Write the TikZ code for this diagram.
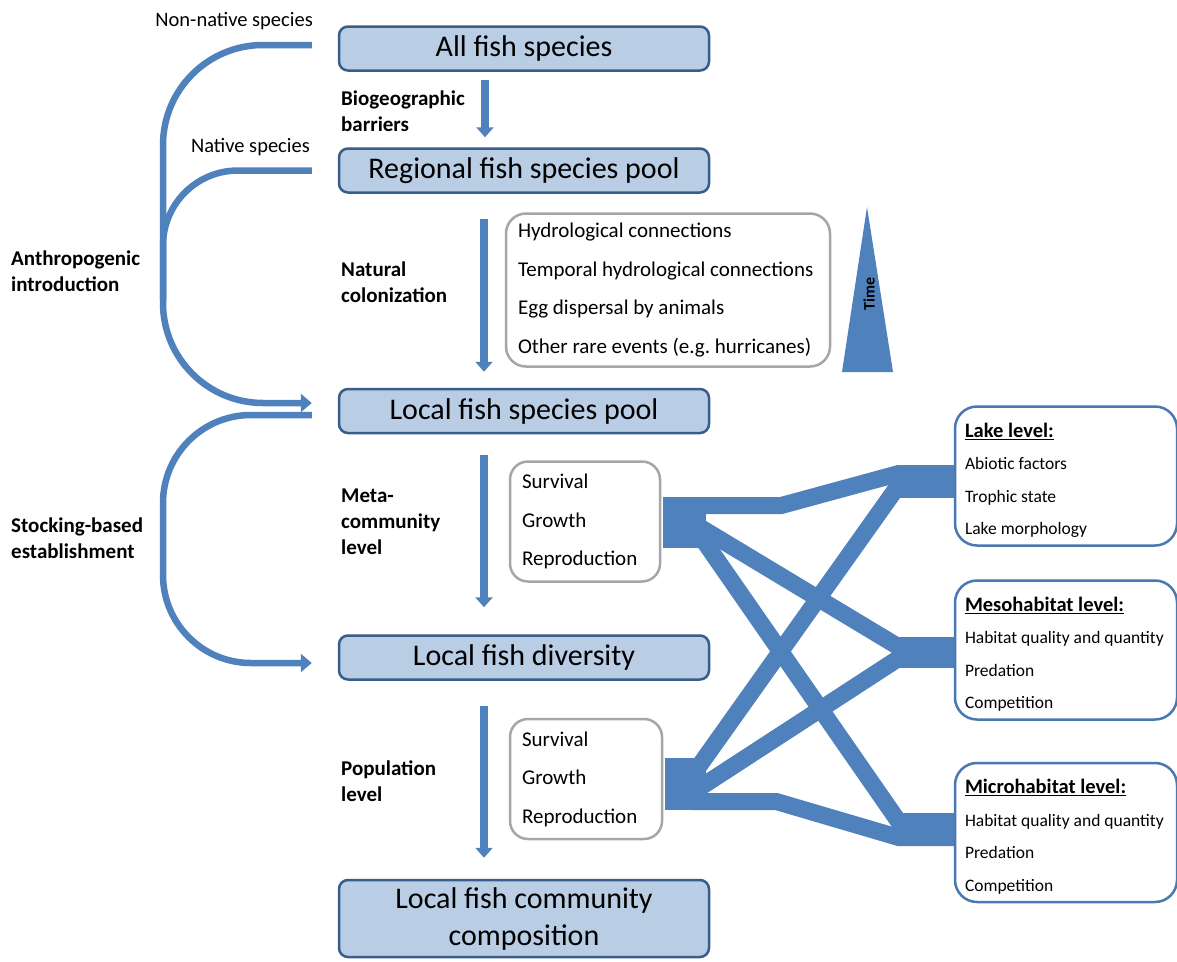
\documentclass[tikz,border=0pt]{standalone}
\usepackage{fontspec}
\setmainfont{Carlito}
\usetikzlibrary{arrows.meta}
\definecolor{flowblue}{HTML}{4F81BD}
\definecolor{boxfill}{HTML}{B9CDE5}
\definecolor{boxline}{HTML}{385D8A}
\definecolor{levelline}{HTML}{4A78B0}
\definecolor{framegray}{HTML}{A6A6A6}
\newcommand\levelhead[1]{{\bfseries\fontsize{20.5}{25}\selectfont\rule{0pt}{23pt}\underline{#1}}}

\begin{document}
\begin{tikzpicture}[
  x=1pt,y=-1pt,
  stage/.style={draw=boxline,line width=2.5pt,fill=boxfill,rounded corners=9pt,minimum width=370pt,minimum height=44pt,inner sep=0pt,align=center,font=\fontsize{30}{37}\selectfont},
  factors/.style={draw=framegray,line width=2.5pt,fill=white,rounded corners=20pt,inner xsep=12pt,inner ysep=0pt,align=flush left,font=\fontsize{21}{38.5}\selectfont},
  level/.style={draw=levelline,line width=2.5pt,fill=white,rounded corners=22pt,inner xsep=10pt,inner ysep=0pt,text width=202pt,minimum height=139pt,align=flush left,font=\fontsize{17.5}{32.5}\selectfont},
  note/.style={inner sep=0pt,font=\fontsize{20.5}{25}\selectfont},
  process/.style={inner sep=0pt,align=left,font=\bfseries\fontsize{21}{26}\selectfont},
  flow/.style={draw=flowblue,line width=8pt,-{Triangle[length=10pt,width=17pt]}},
  route/.style={draw=flowblue,line width=6.5pt},
  routehead/.style={-{Triangle[length=11pt,width=18pt]}},
  band/.style={draw=flowblue,line width=17pt}
]
\path[use as bounding box,fill=white] (0,0) rectangle (1177,961);

\node[stage] (allsp) at (524,48.5) {All fish species};
\node[stage] (regional) at (524,170.5) {Regional fish species pool};
\node[stage] (pool) at (524,411) {Local fish species pool};
\node[stage] (diversity) at (524,657.5) {Local fish diversity};
\node[stage,minimum height=77pt] (community) at (524,918.5) {Local fish community\\composition};

\node[note,anchor=east] (nonnative) at (313,21) {Non-native species};
\node[note,anchor=east] (native) at (310,147) {Native species};
\node[process,anchor=west] (anthro) at (11,271) {Anthropogenic\\introduction};
\node[process,anchor=west] (stocking) at (11,538) {Stocking-based\\establishment};
\node[process,anchor=west] (barrier) at (341,111) {Biogeographic\\barriers};
\node[process,anchor=west] (colonise) at (341,282) {Natural\\colonization};
\node[process,anchor=west] (metalevel) at (341,522) {Meta-\\community\\level};
\node[process,anchor=west] (poplevel) at (341,781) {Population\\level};

\node[factors,text width=300pt,minimum height=153pt] (routes) at (668,290)
  {Hydrological connections\\Temporal hydrological connections\\Egg dispersal by animals\\Other rare events (e.g.\ hurricanes)};
\fill[flowblue] (867,207) -- (893,372) -- (842,372) -- cycle;
\node[rotate=90,inner sep=0pt,font=\bfseries\fontsize{16}{16}\selectfont] (timelabel) at (869,294) {Time};

\node[factors,text width=126pt,minimum height=120pt,rounded corners=18pt] (metabox) at (585,521.5)
  {Survival\\Growth\\Reproduction};
\node[factors,text width=128pt,minimum height=120pt,rounded corners=18pt] (popbox) at (586,779)
  {Survival\\Growth\\Reproduction};

\node[level] (lake) at (1066,476)
  {\levelhead{Lake level:}\\Abiotic factors\\Trophic state\\Lake morphology};
\node[level] (meso) at (1066,650)
  {\levelhead{Mesohabitat level:}\\Habitat quality and quantity\\Predation\\Competition};
\node[level] (micro) at (1066,832.5)
  {\levelhead{Microhabitat level:}\\Habitat quality and quantity\\Predation\\Competition};

\draw[flow] ([xshift=-39pt,yshift=-8pt]allsp.south) -- ([xshift=-39pt,yshift=10pt]regional.north);
\draw[flow] ([xshift=-40pt,yshift=-25pt]regional.south) -- ([xshift=-40pt,yshift=16pt]pool.north);
\draw[flow] ([xshift=-40pt,yshift=-21pt]pool.south) -- ([xshift=-40pt,yshift=27pt]diversity.north);
\draw[flow] ([xshift=-40pt,yshift=-25pt]diversity.south) -- ([xshift=-40pt,yshift=21pt]community.north);

\draw[route,routehead,rounded corners=100pt] ([xshift=-26pt,yshift=3.5pt]allsp.west) -| (163,403) -- ([xshift=-26pt,yshift=8pt]pool.west);
\draw[route,rounded corners=75pt] ([xshift=-26pt]regional.west) -| (163,300);
\draw[route,routehead,rounded corners=88pt] ([xshift=-26pt,yshift=-4pt]pool.west) -| (163,663) -- ([xshift=-26pt,yshift=-5.5pt]diversity.west);

\draw[band,line width=51pt] ([xshift=1.5pt,yshift=-1pt]metabox.east) -- ++(43.5,0);
\draw[band,line width=52pt] ([xshift=1.5pt,yshift=-5pt]popbox.east) -- ++(41.5,0);
\draw[band,line width=33pt] ([xshift=-57pt,yshift=-5.5pt]lake.west) -- ([yshift=-5.5pt]lake.west);
\draw[band,line width=31pt] ([xshift=-57pt,yshift=-2.5pt]meso.west) -- ([yshift=-2.5pt]meso.west);
\draw[band,line width=33pt] ([xshift=-57pt,yshift=3pt]micro.west) -- ([yshift=3pt]micro.west);

\draw[band] ([xshift=30pt,yshift=16pt]metabox.east) -- ++(90,0) -- ([xshift=-55pt,yshift=2.5pt]lake.west) -- ([yshift=2.5pt]lake.west);
\draw[band] ([xshift=35pt,yshift=-3.5pt]metabox.east) -- ([xshift=-50pt]meso.west);
\draw[band] ([xshift=35pt,yshift=-8.5pt]metabox.east) -- ([xshift=-50pt,yshift=3.5pt]micro.west);
\draw[band] ([xshift=33pt,yshift=9pt]popbox.east) -- ([xshift=-50pt,yshift=-2pt]lake.west);
\draw[band] ([xshift=33pt,yshift=-11pt]popbox.east) -- ([xshift=-50pt,yshift=-5pt]meso.west);
\draw[band] ([xshift=28pt,yshift=-22.5pt]popbox.east) -- ++(85,0) -- ([xshift=-55pt,yshift=-5pt]micro.west) -- ([yshift=-5pt]micro.west);
\end{tikzpicture}
\end{document}
